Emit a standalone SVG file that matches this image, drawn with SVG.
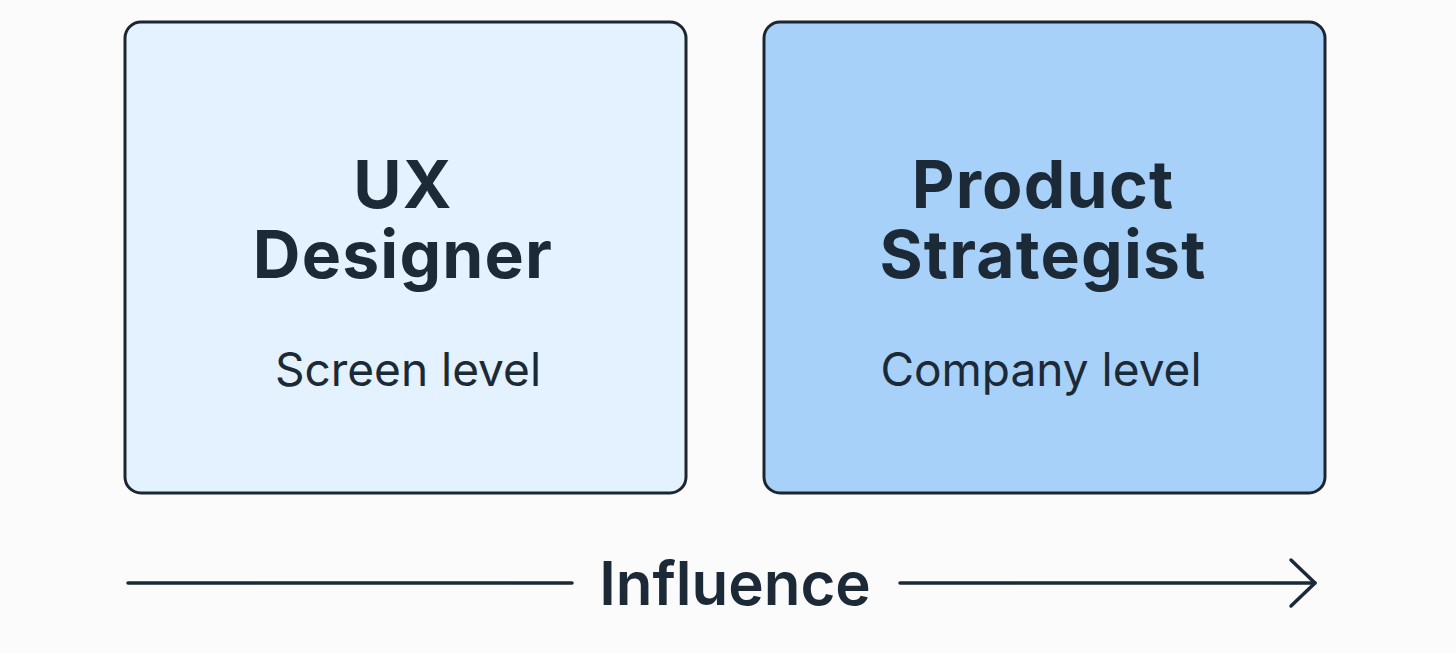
<svg xmlns="http://www.w3.org/2000/svg" width="1456" height="653" viewBox="0 0 1456 653">
<style>
.box{stroke:#1b2632;stroke-width:3}
.title{font-family:Inter,"Liberation Sans",sans-serif;font-weight:700;font-size:66px;letter-spacing:1.2px;fill:#1c2a38;text-anchor:middle}
.sub{font-family:Inter,"Liberation Sans",sans-serif;font-weight:400;font-size:46px;fill:#1c2a38;text-anchor:middle}
.axis{stroke:#1c2a38;stroke-width:3.5;fill:none;stroke-linecap:round;stroke-linejoin:round}
.label{font-family:Inter,"Liberation Sans",sans-serif;font-weight:600;font-size:60px;fill:#1c2a38;text-anchor:middle}
</style>
<rect width="1456" height="653" fill="#fbfbfb"/>
<g id="ux-designer">
<rect class="box" x="125" y="22" width="561" height="471" rx="16" fill="#e3f2fe"/>
<text class="title"><tspan x="403" y="208">UX</tspan><tspan x="403" y="278">Designer</tspan></text>
<text class="sub" x="408" y="386">Screen level</text>
</g>
<g id="product-strategist">
<rect class="box" x="764" y="22" width="561" height="471" rx="16" fill="#a8d1f9"/>
<text class="title"><tspan x="1043" y="208">Product</tspan><tspan x="1043" y="278">Strategist</tspan></text>
<text class="sub" x="1041" y="386">Company level</text>
</g>
<g id="connectors">
<line class="axis" x1="128" y1="583" x2="572" y2="583"/>
<line class="axis" x1="900" y1="583" x2="1315" y2="583"/>
<polyline class="axis" points="1291,560 1315,583 1291,606"/>
<text class="label" x="735" y="605">Influence</text>
</g>
</svg>
